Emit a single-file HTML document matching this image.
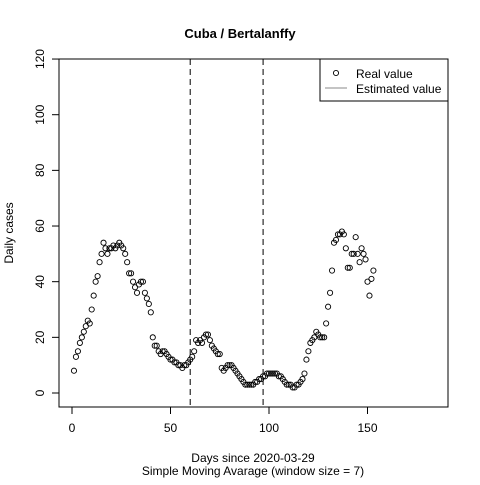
<!DOCTYPE html>
<html><head><meta charset="utf-8"><style>body{margin:0;background:#fff}svg{font-family:"Liberation Sans",sans-serif}</style></head><body>
<svg width="480" height="480" viewBox="0 0 480 480">
<g id="plot"></g>
</svg>
<script>
const realValues=[8,13,15,18,20,22,24,26,25,30,35,40,42,47,50,54,52,50,52,52,53,52,53,54,53,52,50,47,43,43,40,38,36,39,40,40,36,34,32,29,20,17,17,15,14,15,15,14,13,12,12,11,11,10,10,9,10,10,11,12,13,15,19,18,19,18,20,21,21,19,17,16,15,14,14,9,8,9,10,10,10,9,8,7,6,5,4,3,3,3,3,3,4,4,5,5,6,6,7,7,7,7,7,7,6,6,5,4,3,3,3,2,2,3,3,4,5,7,12,15,18,19,20,22,21,20,20,20,25,31,36,44,54,55,57,57,58,57,52,45,45,50,50,56,50,47,52,50,48,40,35,41,44];
const xTicks=[0,50,100,150];
const yTicks=[0,20,40,60,80,100,120];
const vLines=[60,97];
const X0=59,X1=448,Y0=59,Y1=407;
const xs=d=>72+d*1.97;
const ys=v=>393-v*2.783;
const NS="http://www.w3.org/2000/svg";
const svg=document.querySelector('svg');
function mk(t,a,txt){const e=document.createElementNS(NS,t);for(const k in a)e.setAttribute(k,a[k]);if(txt!==undefined)e.textContent=txt;svg.appendChild(e);return e;}
let e;
e=mk('rect',{x:X0,y:Y0,width:X1-X0,height:Y1-Y0,fill:'none',stroke:'#000'});


e=mk('text',{x:240,y:38,'text-anchor':'middle','font-size':13,'font-weight':'bold'},'Cuba / Bertalanffy');


xTicks.forEach(t=>{
 e=mk('line',{x1:xs(t),x2:xs(t),y1:Y1,y2:Y1+7,stroke:'#000'});
 
 
 e=mk('text',{x:xs(t),y:432,'text-anchor':'middle','font-size':12},String(t));
 
 
});
yTicks.forEach(t=>{
 e=mk('line',{x1:X0-7,x2:X0,y1:ys(t),y2:ys(t),stroke:'#000'});
 
 
 e=mk('text',{x:44,y:ys(t),'text-anchor':'middle','font-size':12,transform:`rotate(-90 44 ${ys(t)})`},String(t));
 
 
});
vLines.forEach(d=>{
 e=mk('line',{x1:xs(d),x2:xs(d),y1:Y0,y2:Y1,stroke:'#000','stroke-dasharray':'6,4'});
 
 
});
realValues.forEach((v,i)=>{
 e=mk('circle',{cx:xs(i+1),cy:ys(v),r:2.6,fill:'none',stroke:'#000','stroke-width':0.9});
 
 
});
e=mk('text',{x:253,y:462,'text-anchor':'middle','font-size':12},'Days since 2020-03-29');


e=mk('text',{x:253,y:475,'text-anchor':'middle','font-size':12},'Simple Moving Avarage (window size = 7)');


e=mk('text',{x:13,y:233,'text-anchor':'middle','font-size':12,transform:'rotate(-90 13 233)'},'Daily cases');


e=mk('rect',{x:320,y:59,width:128,height:42,fill:'#fff',stroke:'#000'});


e=mk('circle',{cx:336,cy:73,r:2.6,fill:'none',stroke:'#000','stroke-width':0.9});


e=mk('text',{x:356,y:78,'font-size':12},'Real value');


e=mk('line',{x1:325,x2:347,y1:88,y2:88,stroke:'#888'});


e=mk('text',{x:356,y:93,'font-size':12},'Estimated value');


</script>
</body></html>
